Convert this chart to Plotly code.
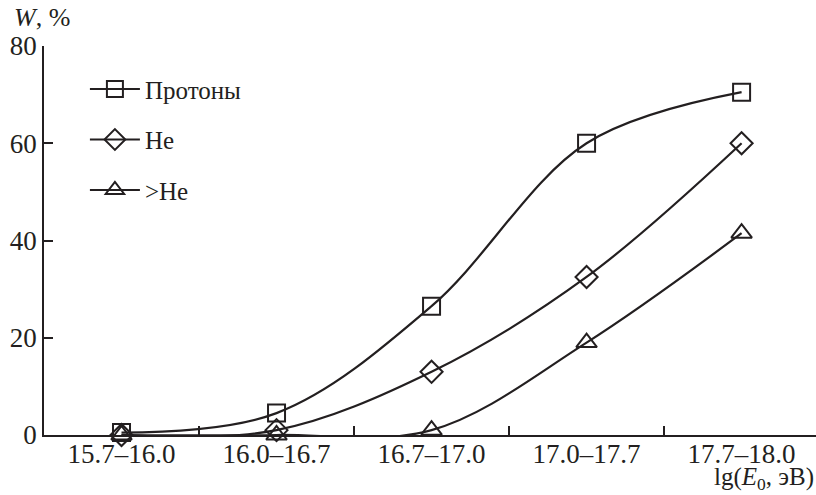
import plotly.graph_objects as go

categories = ["15.7\u201316.0", "16.0\u201316.7", "16.7\u201317.0", "17.0\u201317.7", "17.7\u201318.0"]
protons = [0.5, 4.5, 26.5, 60, 70.5]
helium = [0, 1, 13, 32.5, 60]
heavier = [0, 0, 1, 19, 41.5]

INK = "#231f20"
FONT = "Liberation Serif, Times New Roman, serif"

series = [
    ("\u041f\u0440\u043e\u0442\u043e\u043d\u044b", protons, "square-open", 17),
    ("He", helium, "diamond-open", 17),
    (">He", heavier, "triangle-up-open", 18),
]

fig = go.Figure()
for i, (name, vals, sym, sz) in enumerate(series):
    fig.add_trace(go.Scatter(
        x=categories, y=vals, name=name, mode="lines+markers",
        line=dict(shape="spline", smoothing=1.0, color=INK, width=2.2),
        marker=dict(symbol=sym, size=sz, color=INK, line=dict(width=2, color=INK)),
        cliponaxis=False, legendgroup=f"g{i}",
    ))

fig.update_layout(
    width=816, height=495,
    margin=dict(l=44, r=0, t=46, b=60),
    paper_bgcolor="white", plot_bgcolor="white",
    font=dict(family=FONT, size=27, color=INK),
    showlegend=True,
    legend=dict(x=0.053, y=0.948, xanchor="left", yanchor="top",
                bgcolor="rgba(0,0,0,0)", font=dict(family=FONT, size=25, color=INK),
                tracegroupgap=15, itemwidth=50),
    xaxis=dict(type="category", range=[-0.5, 4.48], showgrid=False,
               showline=True, linecolor=INK, linewidth=1.5,
               ticks="inside", ticklen=9, tickcolor=INK, tickwidth=1.5,
               tickson="boundaries", tickfont=dict(family=FONT, size=27, color=INK),
               ticklabelstandoff=-6, zeroline=False),
    yaxis=dict(range=[0, 80], tickvals=[0, 20, 40, 60, 80], showgrid=False,
               showline=True, linecolor=INK, linewidth=1.5,
               ticks="inside", ticklen=9, tickcolor=INK, tickwidth=1.5,
               tickfont=dict(family=FONT, size=27, color=INK), zeroline=False),
)

fig.add_annotation(text="<i>W</i>, %", xref="paper", yref="paper",
                   x=-0.041, y=1.0, yshift=12, xanchor="left", yanchor="bottom",
                   showarrow=False, font=dict(family=FONT, size=26, color=INK))
fig.add_annotation(text="lg(<i>E</i><sub>0</sub>, \u044d\u0412)", xref="paper", yref="paper",
                   x=1.0, y=0, yshift=-43, xanchor="right", yanchor="middle",
                   showarrow=False, font=dict(family=FONT, size=25, color=INK))

fig.write_html("out.html")
